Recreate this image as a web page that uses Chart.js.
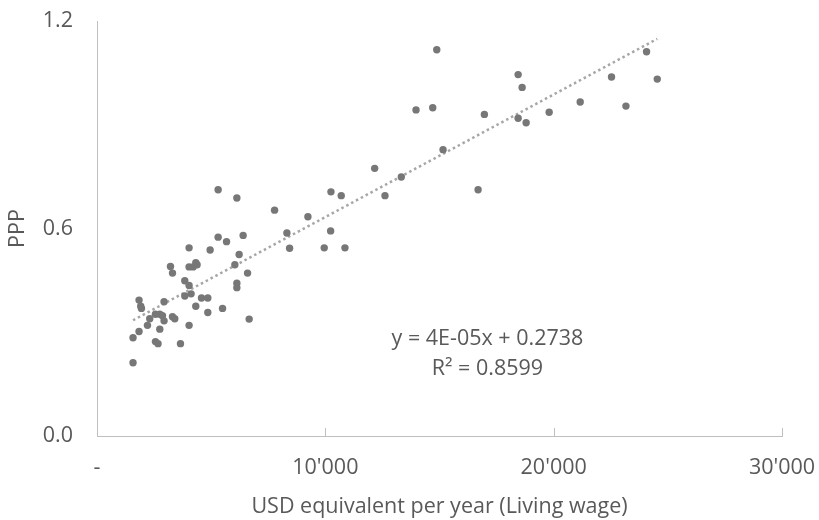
<!DOCTYPE html>
<html>
<head>
<meta charset="utf-8">
<script src="https://cdn.jsdelivr.net/npm/chart.js@4.4.1/dist/chart.umd.min.js"></script>
<style>
  body { margin: 0; background: #fff; }
</style>
</head>
<body>
<canvas id="scatterChart" width="819" height="520"></canvas>
<script>
// living wage (USD per year) and PPP
var wage = [
  5305, 6125, 7777, 8317, 8435, 5305, 5673, 6401, 4033, 4954,
  6225, 3218, 3306, 4033, 4209, 4327, 4384, 6037, 6594, 3845,
  4033, 6125, 6125, 1841, 1916, 1946, 2937, 3845, 4121, 4577,
  4853, 4327, 4853, 5498, 6664, 2560, 2749, 2867, 2937, 3306,
  3406, 2310, 2210, 1841, 1578, 2749, 2560, 2674, 3656, 4033,
  1578, 12161, 10246, 10697, 12613, 9237, 10232, 9952, 10859, 14880,
  18444, 18619, 13972, 14704, 16966, 18444, 18794, 19803, 21162, 22534,
  23165, 24068, 24537, 15156, 13327, 16690
];
var ppp = [
  0.712, 0.688, 0.653, 0.587, 0.543, 0.575, 0.562, 0.580, 0.544, 0.538,
  0.525, 0.490, 0.471, 0.489, 0.489, 0.501, 0.495, 0.495, 0.471, 0.449,
  0.435, 0.442, 0.429, 0.393, 0.375, 0.369, 0.388, 0.405, 0.411, 0.399,
  0.399, 0.375, 0.357, 0.369, 0.338, 0.352, 0.352, 0.348, 0.333, 0.345,
  0.339, 0.339, 0.320, 0.302, 0.284, 0.309, 0.273, 0.267, 0.267, 0.320,
  0.212, 0.774, 0.706, 0.695, 0.695, 0.634, 0.593, 0.544, 0.544, 1.117,
  1.045, 1.008, 0.943, 0.949, 0.930, 0.919, 0.906, 0.936, 0.966, 1.038,
  0.954, 1.111, 1.032, 0.828, 0.749, 0.712
];
var xTicks = [0, 10000, 20000, 30000];
var yTicks = [0, 0.6, 1.2];
var trendText = ['y = 4E-05x + 0.2738', 'R\u00b2 = 0.8599'];

var points = wage.map(function (w, i) { return { x: w, y: ppp[i] }; });

// least squares line for the trend
var n = wage.length, sx = 0, sy = 0, sxx = 0, sxy = 0;
for (var i = 0; i < n; i++) {
  sx += wage[i]; sy += ppp[i];
  sxx += wage[i] * wage[i]; sxy += wage[i] * ppp[i];
}
var slope = (n * sxy - sx * sy) / (n * sxx - sx * sx);
var icept = (sy - slope * sx) / n;
var xMin = Math.min.apply(null, wage), xMax = Math.max.apply(null, wage);
var trend = [
  { x: xMin, y: icept + slope * xMin },
  { x: xMax, y: icept + slope * xMax }
];

var grey = '#595959';
var fontName = "'Open Sans', 'Noto Sans', sans-serif";
var fontSize = 21.5;

// tick marks pointing into the plot, and the equation text
var extras = {
  id: 'extras',
  afterDraw: function (chart) {
    var ctx = chart.ctx;
    var xs = chart.scales.x, ys = chart.scales.y;
    ctx.save();
    ctx.strokeStyle = '#bfbfbf';
    ctx.lineWidth = 1;
    xTicks.forEach(function (t) {
      if (t === 0) return;
      var px = Math.round(xs.getPixelForValue(t)) + 0.5;
      ctx.beginPath();
      ctx.moveTo(px, ys.bottom);
      ctx.lineTo(px, ys.bottom - 8);
      ctx.stroke();
    });
    ctx.fillStyle = grey;
    ctx.font = fontSize + 'px ' + fontName;
    ctx.textAlign = 'center';
    ctx.textBaseline = 'middle';
    var cx = xs.getPixelForValue(17100);
    ctx.fillText(trendText[0], cx, ys.getPixelForValue(0.281));
    ctx.fillText(trendText[1], cx, ys.getPixelForValue(0.194));
    ctx.restore();
  }
};

var ctx = document.getElementById('scatterChart').getContext('2d');
new Chart(ctx, {
  type: 'scatter',
  data: {
    datasets: [{
      data: points,
      backgroundColor: '#777777',
      borderWidth: 0,
      pointRadius: 3.7,
      pointHoverRadius: 3.7
    }, {
      type: 'line',
      data: trend,
      borderColor: '#a6a6a6',
      borderWidth: 2.5,
      borderDash: [2.5, 3],
      pointRadius: 0,
      fill: false
    }]
  },
  options: {
    responsive: false,
    animation: false,
    layout: { padding: { top: 21, right: 37, left: 0, bottom: 0 } },
    plugins: { legend: { display: false }, tooltip: { enabled: false } },
    scales: {
      x: {
        type: 'linear',
        min: 0,
        max: 30000,
        afterBuildTicks: function (scale) {
          scale.ticks = xTicks.map(function (v) { return { value: v }; });
        },
        afterFit: function (scale) {
          scale.height = 84;
          scale.paddingLeft = 0;
          scale.paddingRight = 0;
        },
        grid: { display: false, drawTicks: false },
        border: { color: '#bfbfbf', width: 1 },
        ticks: {
          padding: 19,
          color: grey,
          font: { family: fontName, size: fontSize },
          maxRotation: 0,
          callback: function (v) {
            if (v === 0) return '-';
            return String(v).replace(/\B(?=(\d{3})+(?!\d))/g, "'");
          }
        },
        title: {
          display: true,
          text: 'USD equivalent per year (Living wage)',
          color: grey,
          font: { family: fontName, size: fontSize },
          padding: { top: 0, bottom: 0 }
        }
      },
      y: {
        min: 0,
        max: 1.2,
        afterBuildTicks: function (scale) {
          scale.ticks = yTicks.map(function (v) { return { value: v }; });
        },
        afterFit: function (scale) {
          scale.width = 97;
          scale.paddingTop = 0;
          scale.paddingBottom = 0;
        },
        grid: { display: false, drawTicks: false },
        border: { color: '#bfbfbf', width: 1 },
        ticks: {
          padding: 24,
          color: grey,
          font: { family: fontName, size: fontSize },
          callback: function (v) { return v.toFixed(1); }
        },
        title: {
          display: true,
          text: 'PPP',
          color: grey,
          font: { family: fontName, size: fontSize },
          padding: { top: 5, bottom: 0 }
        }
      }
    }
  },
  plugins: [extras]
});
</script>
</body>
</html>
